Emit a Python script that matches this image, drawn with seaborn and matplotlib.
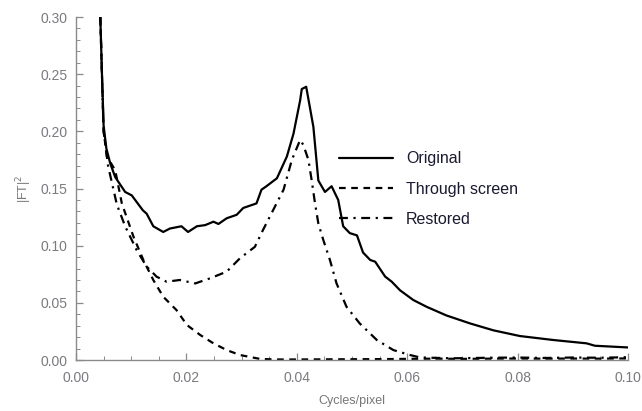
import matplotlib
matplotlib.use("Agg")
import matplotlib.pyplot as plt
import seaborn as sns
from matplotlib.ticker import MultipleLocator, FormatStrFormatter

# Original (solid)
orig_x = [0.0044, 0.0047, 0.0050, 0.0055, 0.0062, 0.0071, 0.0089, 0.0101, 0.0121,
          0.0128, 0.0140, 0.0158, 0.0170, 0.0191, 0.0203, 0.0219, 0.0234, 0.0249,
          0.0258, 0.0273, 0.0291, 0.0303, 0.0327, 0.0336, 0.0345, 0.0364, 0.0382,
          0.0394, 0.0406, 0.0409, 0.0417, 0.0430, 0.0439, 0.0451, 0.0463, 0.0475,
          0.0484, 0.0496, 0.0509, 0.0520, 0.0533, 0.0542, 0.0560, 0.0572, 0.0587,
          0.0611, 0.0635, 0.0671, 0.0714, 0.0756, 0.0804, 0.0865, 0.0925, 0.0940,
          0.1000]
orig_y = [0.300, 0.250, 0.205, 0.185, 0.172, 0.160, 0.147, 0.144, 0.131,
          0.128, 0.117, 0.112, 0.115, 0.117, 0.112, 0.117, 0.118, 0.121,
          0.119, 0.124, 0.127, 0.133, 0.137, 0.149, 0.152, 0.159, 0.178,
          0.198, 0.227, 0.237, 0.239, 0.204, 0.157, 0.147, 0.152, 0.140,
          0.117, 0.111, 0.109, 0.094, 0.0875, 0.086, 0.073, 0.0685, 0.061,
          0.0525, 0.0466, 0.039, 0.032, 0.026, 0.021, 0.0175, 0.0146, 0.0125,
          0.011]

# Through screen (dashed)
screen_x = [0.0044, 0.0047, 0.0050, 0.0056, 0.0071, 0.0083, 0.0104, 0.0122, 0.0140,
            0.0158, 0.0182, 0.0201, 0.0225, 0.0249, 0.0273, 0.0297, 0.0333, 0.0360,
            0.0400, 0.0450, 0.0500, 0.0550, 0.0600, 0.0650, 0.0700, 0.0750, 0.0800,
            0.0850, 0.0900, 0.0950, 0.1000]
screen_y = [0.300, 0.250, 0.200, 0.178, 0.166, 0.137, 0.108, 0.0875, 0.070,
            0.0554, 0.0437, 0.0306, 0.0219, 0.0146, 0.0087, 0.0044, 0.0010, 0.0005,
            0.0005, 0.0006, 0.0007, 0.0008, 0.0010, 0.0012, 0.0010, 0.0012, 0.0013,
            0.0012, 0.0013, 0.0012, 0.0014]

# Restored (dash-dot)
rest_x = [0.0044, 0.0047, 0.0050, 0.0058, 0.0074, 0.0089, 0.0110, 0.0128, 0.0146,
          0.0164, 0.0188, 0.0216, 0.0243, 0.0273, 0.0297, 0.0324, 0.0339, 0.0357,
          0.0376, 0.0391, 0.0406, 0.0412, 0.0421, 0.0427, 0.0433, 0.0439, 0.0448,
          0.0460, 0.0472, 0.0490, 0.0514, 0.0545, 0.0575, 0.0605, 0.0623, 0.0680,
          0.0750, 0.0800, 0.0850, 0.0900, 0.0950, 0.1000]
rest_y = [0.300, 0.250, 0.200, 0.170, 0.136, 0.117, 0.096, 0.0817, 0.0729,
          0.0685, 0.070, 0.067, 0.0715, 0.0773, 0.089, 0.099, 0.114, 0.131,
          0.149, 0.175, 0.1925, 0.188, 0.175, 0.157, 0.137, 0.1195, 0.105,
          0.0875, 0.067, 0.0466, 0.032, 0.0175, 0.0087, 0.0044, 0.0023, 0.0015,
          0.0020, 0.0022, 0.0018, 0.0022, 0.0020, 0.0025]

sns.set_style("ticks")
plt.rcParams['font.family'] = ['Liberation Sans', 'DejaVu Sans']

fig = plt.figure(figsize=(6.42, 4.11), dpi=100)
ax = fig.add_axes([0.1184, 0.124, 0.8598, 0.8346])

sns.lineplot(x=orig_x, y=orig_y, ax=ax, color="black", lw=1.6, label="Original",
             sort=False)
sns.lineplot(x=screen_x, y=screen_y, ax=ax, color="black", lw=1.6, label="Through screen",
             sort=False, linestyle=(0, (3, 2.5)))
sns.lineplot(x=rest_x, y=rest_y, ax=ax, color="black", lw=1.6, label="Restored",
             sort=False, linestyle=(0, (4, 2.5, 1, 2.5)))

ax.set_xlim(0, 0.10)
ax.set_ylim(0, 0.30)
ax.xaxis.set_major_locator(MultipleLocator(0.02))
ax.xaxis.set_minor_locator(MultipleLocator(0.005))
ax.yaxis.set_major_locator(MultipleLocator(0.05))
ax.yaxis.set_minor_locator(MultipleLocator(0.01))
ax.xaxis.set_major_formatter(FormatStrFormatter("%.2f"))
ax.yaxis.set_major_formatter(FormatStrFormatter("%.2f"))

grey = "#8a8a8a"
for side in ["top", "right"]:
    ax.spines[side].set_visible(False)
for side in ["left", "bottom"]:
    ax.spines[side].set_color(grey)
    ax.spines[side].set_linewidth(1.0)
ax.tick_params(which="both", direction="in", color=grey, labelcolor="#7a7a80",
               labelsize=10)
ax.tick_params(which="major", length=5, width=0.9)
ax.tick_params(which="minor", length=3, width=0.7)
ax.tick_params(axis="x", which="major", pad=8)
ax.tick_params(axis="y", which="major", pad=6)

ax.set_xlabel("Cycles/pixel", color="#777777", fontsize=9, labelpad=7)
ax.set_ylabel("|FT|$^2$", color="#777777", fontsize=9, labelpad=5)

ax.legend(loc="upper left", bbox_to_anchor=(0.45, 0.65), frameon=False,
          fontsize=11.5, handlelength=3.4, handletextpad=0.8, labelspacing=0.95,
          labelcolor="#1a1a30")

fig.savefig("out.png", dpi=100)
